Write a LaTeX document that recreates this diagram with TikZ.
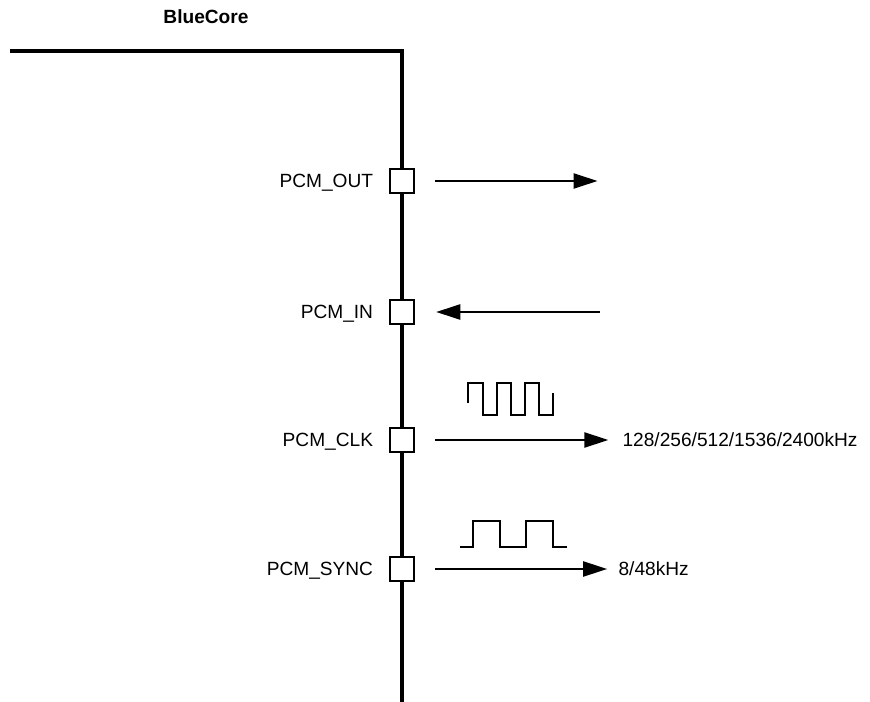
\documentclass[tikz,border=0pt]{standalone}
\usepackage{fontspec}
\setmainfont{Liberation Sans}
\usetikzlibrary{arrows.meta}

\begin{document}
\begin{tikzpicture}[x=0.025cm,y=-0.025cm,line join=miter,
  pin/.style={draw,line width=1.5pt,fill=white,minimum size=0.62cm,inner sep=0pt},
  pinlabel/.style={anchor=base east,inner sep=0pt,font=\fontsize{13.6}{16}\selectfont},
  freq/.style={anchor=west,inner sep=0pt,font=\fontsize{13.6}{16}\selectfont},
  sig/.style={line width=1.2pt,-{Triangle[length=0.6cm,width=0.38cm]}},
  wave/.style={line width=1.3pt}]
  \useasboundingbox (0,0) rectangle (870,702);
  \node[font=\fontsize{13.6}{16}\selectfont\bfseries] (chip) at (206,17) {BlueCore};
  \draw[line width=2.7pt] (10,51) -- (402,51) -- (402,702);
  % pins
  \node[pin] (out) at (402,181) {};
  \node[pin] (in) at (402,312) {};
  \node[pin] (clk) at (402,440) {};
  \node[pin] (sync) at (402,569) {};
  \node[pinlabel] (outl) at ([xshift=-0.38cm,yshift=-0.167cm]out.west) {PCM\_OUT};
  \node[pinlabel] (inl) at ([xshift=-0.38cm,yshift=-0.167cm]in.west) {PCM\_IN};
  \node[pinlabel] (clkl) at ([xshift=-0.38cm,yshift=-0.167cm]clk.west) {PCM\_CLK};
  \node[pinlabel] (syncl) at ([xshift=-0.38cm,yshift=-0.167cm]sync.west) {PCM\_SYNC};
  % signals
  \coordinate (outend) at ([xshift=4.55cm]out.east);
  \coordinate (instart) at ([xshift=4.6cm]in.east);
  \node[freq] (clkf) at ([xshift=5.17cm]clk.east) {128/256/512/1536/2400kHz};
  \node[freq] (syncf) at ([xshift=5.07cm]sync.east) {8/48kHz};
  \draw[sig] ([xshift=0.5cm]out.east) -- (outend);
  \draw[sig] (instart) -- ([xshift=0.52cm]in.east);
  \draw[sig] ([xshift=0.5cm]clk.east) -- ([xshift=-0.35cm]clkf.west);
  \draw[sig] ([xshift=0.5cm]sync.east) -- ([xshift=-0.28cm]syncf.west);
  % waveforms
  \draw[wave] (468,403) -- (468,383) -- (483,383) -- (483,415) -- (497,415)
    -- (497,383) -- (511,383) -- (511,415) -- (525,415) -- (525,383)
    -- (539,383) -- (539,415) -- (553,415) -- (553,393);
  \draw[wave] (460,547) -- (473,547) -- (473,521) -- (500,521) -- (500,547)
    -- (526,547) -- (526,521) -- (553,521) -- (553,547) -- (567,547);
\end{tikzpicture}
\end{document}
